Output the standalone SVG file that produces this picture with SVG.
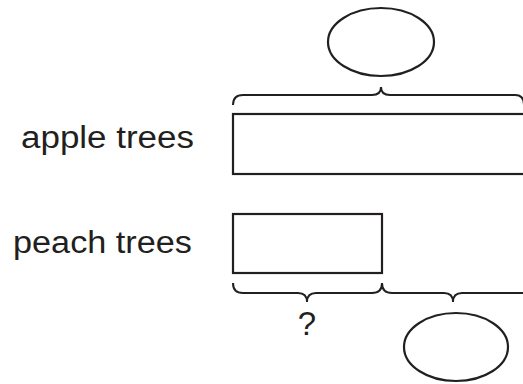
<svg xmlns="http://www.w3.org/2000/svg" width="523" height="384" viewBox="0 0 523 384">
<style>
.s{fill:none;stroke:#231f20;stroke-width:2}
.b{fill:#fff;stroke:#231f20;stroke-width:2.2}
.t{font-family:"Liberation Sans",Arial,sans-serif;font-size:31px;fill:#231f20}
</style>
<rect width="523" height="384" fill="#fff"/>
<g id="label-apple"><text class="t" x="21" y="148" textLength="173" lengthAdjust="spacingAndGlyphs">apple trees</text></g>
<g id="label-peach"><text class="t" x="13" y="253" textLength="179" lengthAdjust="spacingAndGlyphs">peach trees</text></g>
<g id="apple-bar"><rect class="b" x="233" y="114" width="293" height="60"/></g>
<g id="peach-bar"><rect class="b" x="233" y="214" width="149" height="59"/></g>
<g id="top-oval"><ellipse class="b" cx="381" cy="42" rx="53" ry="34"/></g>
<g id="bottom-oval"><ellipse class="b" cx="456" cy="347" rx="52" ry="34"/></g>
<g id="question"><text class="t" x="307" y="335" text-anchor="middle" style="font-size:33px">?</text></g>
<g id="connectors">
<path class="s" d="M233,105 Q233,95 243,95 L372,95 Q381,95 381,87 Q381,95 390,95 L515,95 Q524,95 524,105"/>
<path class="s" d="M233,283 Q233,293 243,293 L298,293 Q307,293 307,302 Q307,293 316,293 L372,293 Q382,293 382,283 Q382,293 392,293 L444,293 Q453,293 453,302 Q453,293 462,293 L525,293"/>
</g>
</svg>
